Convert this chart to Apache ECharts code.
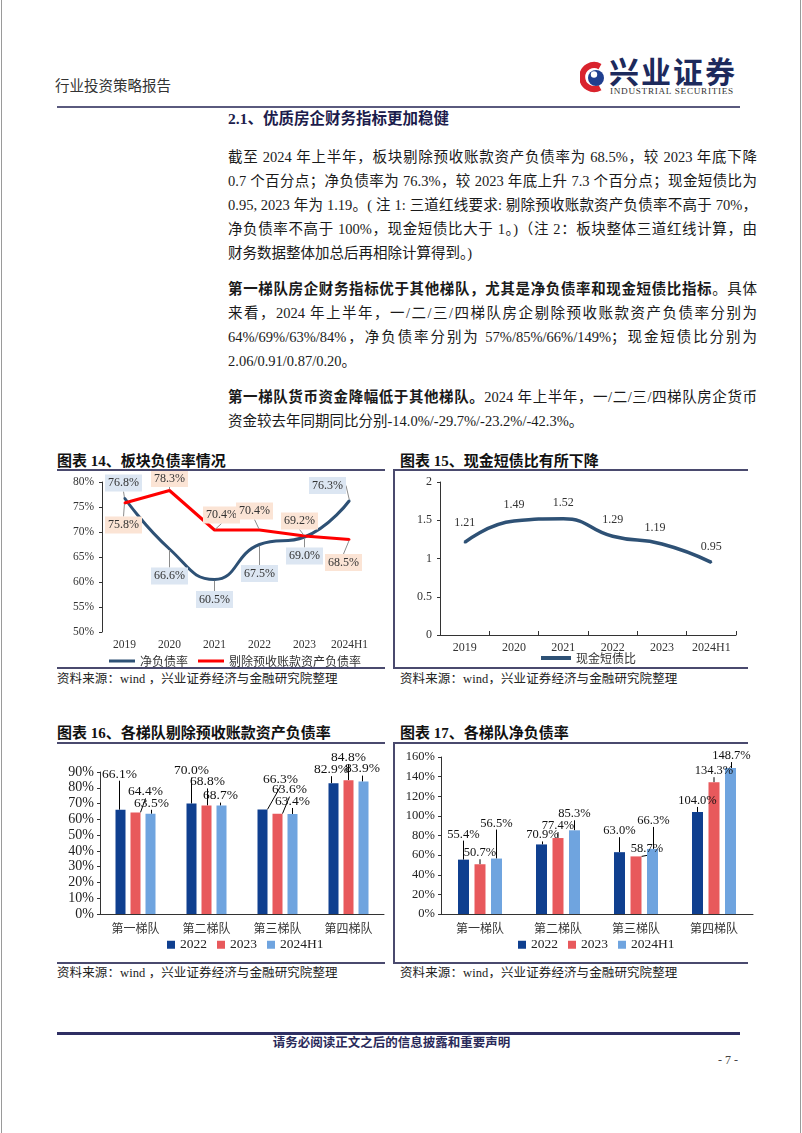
<!DOCTYPE html>
<html>
<head>
<meta charset="utf-8">
<script src="https://cdn.jsdelivr.net/npm/echarts@6/dist/echarts.min.js"></script>
<style>
html,body{margin:0;padding:0;background:#fff;}
body{width:802px;height:1133px;position:relative;overflow:hidden;font-family:"Liberation Serif","Noto Sans CJK SC",serif;color:#1a1a1a;}
.a{position:absolute;white-space:nowrap;}
.line{position:absolute;left:228px;width:529px;height:24px;line-height:24px;font-size:14.5px;white-space:nowrap;}
.j{text-align:justify;text-align-last:justify;}
.hr{position:absolute;background:#4a4a6e;}
.ttl{position:absolute;font-size:15px;font-weight:bold;line-height:18px;color:#111;white-space:nowrap;}
.src{position:absolute;font-size:12.5px;line-height:16px;color:#222;white-space:nowrap;letter-spacing:0.1px;}
.chart{position:absolute;}
</style>
</head>
<body>
<!-- page border -->
<div class="hr" style="left:1px;top:0;width:1px;height:1133px;background:#9a9a9a"></div>
<div class="hr" style="left:800px;top:0;width:1px;height:1133px;background:#9a9a9a"></div>

<!-- header -->
<div class="a" style="left:55px;top:77px;font-size:14.5px;line-height:18px;color:#333;">行业投资策略报告</div>
<svg class="a" style="left:580px;top:61px" width="28" height="32" viewBox="0 0 28 32">
  <path d="M20 5.5 A12 12 0 1 0 20 26.5" fill="none" stroke="#d9232d" stroke-width="6"/>
  <circle cx="16" cy="17" r="8" fill="#1f3f8f"/>
  <circle cx="14" cy="13.5" r="3.2" fill="#fff"/>
</svg>
<div class="a" style="left:609px;top:54px;font-size:30px;line-height:33px;font-weight:bold;color:#1d2a5c;letter-spacing:2px;font-family:'Noto Sans CJK SC',serif;">兴业证券</div>
<div class="a" style="left:610px;top:86px;font-size:9.2px;line-height:10px;color:#333;letter-spacing:0.7px;">INDUSTRIAL SECURITIES</div>
<div class="hr" style="left:57px;top:106px;width:683px;height:2px;background:#5a5a7e"></div>

<div class="a" style="left:228px;top:110px;font-size:15.5px;line-height:18px;font-weight:bold;color:#1c1c4c;">2.1、优质房企财务指标更加稳健</div>

<!-- paragraph 1 -->
<div class="line j" style="top:145px">截至 2024 年上半年，板块剔除预收账款资产负债率为 68.5%，较 2023 年底下降</div>
<div class="line j" style="top:169px">0.7 个百分点；净负债率为 76.3%，较 2023 年底上升 7.3 个百分点；现金短债比为</div>
<div class="line j" style="top:193px">0.95, 2023 年为 1.19。( 注 1: 三道红线要求: 剔除预收账款资产负债率不高于 70%，</div>
<div class="line j" style="top:217px">净负债率不高于 100%，现金短债比大于 1。)（注 2：板块整体三道红线计算，由</div>
<div class="line" style="top:241px">财务数据整体加总后再相除计算得到。)</div>

<!-- paragraph 2 -->
<div class="line j" style="top:277px"><b>第一梯队房企财务指标优于其他梯队，尤其是净负债率和现金短债比指标</b>。具体</div>
<div class="line j" style="top:301px">来看，2024 年上半年，一/二/三/四梯队房企剔除预收账款资产负债率分别为</div>
<div class="line j" style="top:325px">64%/69%/63%/84%，净负债率分别为 57%/85%/66%/149%；现金短债比分别为</div>
<div class="line" style="top:349px">2.06/0.91/0.87/0.20。</div>

<!-- paragraph 3 -->
<div class="line j" style="top:385px"><b>第一梯队货币资金降幅低于其他梯队。</b>2024 年上半年，一/二/三/四梯队房企货币</div>
<div class="line" style="top:409px">资金较去年同期同比分别-14.0%/-29.7%/-23.2%/-42.3%。</div>

<!-- chart frames row 1 -->
<div class="ttl" style="left:57px;top:452px">图表 14、板块负债率情况</div>
<div class="ttl" style="left:400px;top:452px">图表 15、现金短债比有所下降</div>
<div class="hr" style="left:57px;top:469px;width:328px;height:2px"></div>
<div class="hr" style="left:393px;top:469px;width:355px;height:2px"></div>
<div class="hr" style="left:393px;top:469px;width:1.5px;height:199px"></div>
<div class="hr" style="left:57px;top:667px;width:328px;height:1.5px"></div>
<div class="hr" style="left:393px;top:667px;width:355px;height:1.5px"></div>
<div class="src" style="left:57px;top:671px">资料来源：wind ，兴业证券经济与金融研究院整理</div>
<div class="src" style="left:400px;top:671px">资料来源：wind，兴业证券经济与金融研究院整理</div>

<!-- chart frames row 2 -->
<div class="ttl" style="left:57px;top:724px">图表 16、各梯队剔除预收账款资产负债率</div>
<div class="ttl" style="left:400px;top:724px">图表 17、各梯队净负债率</div>
<div class="hr" style="left:57px;top:742px;width:328px;height:2px"></div>
<div class="hr" style="left:393px;top:742px;width:355px;height:2px"></div>
<div class="hr" style="left:393px;top:742px;width:1.5px;height:222px"></div>
<div class="hr" style="left:57px;top:962px;width:328px;height:1.5px"></div>
<div class="hr" style="left:393px;top:962px;width:355px;height:1.5px"></div>
<div class="src" style="left:57px;top:965px">资料来源：wind ，兴业证券经济与金融研究院整理</div>
<div class="src" style="left:400px;top:965px">资料来源：wind，兴业证券经济与金融研究院整理</div>

<!-- footer -->
<div class="hr" style="left:57px;top:1032px;width:683px;height:2.5px;background:#2f2f63"></div>
<div class="a" style="left:50px;top:1036px;width:683px;text-align:center;font-size:12.5px;line-height:15px;color:#2a2a5a;font-weight:bold;">请务必阅读正文之后的信息披露和重要声明</div>
<div class="a" style="left:718px;top:1053px;font-size:12px;line-height:14px;color:#444;">- 7 -</div>

<div id="c14" class="chart" style="left:57px;top:471px;width:330px;height:196px"></div>
<div id="c15" class="chart" style="left:395px;top:471px;width:353px;height:196px"></div>
<div id="c16" class="chart" style="left:57px;top:745px;width:330px;height:217px"></div>
<div id="c17" class="chart" style="left:395px;top:745px;width:360px;height:217px"></div>

<script>
// ---------------- data ----------------
const years = ['2019', '2020', '2021', '2022', '2023', '2024H1'];
const netDebtRatio = [76.8, 66.6, 60.5, 67.5, 69.0, 76.3];
const assetLiabRatio = [75.8, 78.3, 70.4, 70.4, 69.2, 68.5];
const cashShortDebt = [1.21, 1.49, 1.52, 1.29, 1.19, 0.95];

const tiers = ['第一梯队', '第二梯队', '第三梯队', '第四梯队'];
const periods = ['2022', '2023', '2024H1'];
const tierLiab2022 = [66.1, 70.0, 66.3, 82.9];
const tierLiab2023 = [64.4, 68.8, 63.6, 84.8];
const tierLiab2024H1 = [63.5, 68.7, 63.4, 83.9];
const tierNet2022 = [55.4, 70.9, 63.0, 104.0];
const tierNet2023 = [50.7, 77.4, 58.7, 134.3];
const tierNet2024H1 = [56.5, 85.3, 66.3, 148.7];

// ---------------- label layout (pixel shifts, style only) ----------------
const shiftNet14 = [[-1,-15],[0,27],[0,20],[0,29],[0,19],[-22,-15]];
const shiftAsset14 = [[-1,22],[0,-12],[7,-15],[-5,-19],[-5,-15],[-6,23]];
const shiftCash15 = [[0,-20],[0,-16],[0,-16],[0,-16],[-7,-16],[0,-15]];
const shiftLiab = [
  [[-1,-25],[0,-22],[18,-19],[-2,-3]],
  [[10,-10],[1,-13],[12,-13],[0,-12]],
  [[1,0],[-1,1],[0,-2],[-1,-2]]
];
const shiftNet = [
  [[0,-15],[1,1],[0,-11],[0,-1]],
  [[0,-1],[0,-2],[11,3],[0,-1]],
  [[0,-25],[0,-6],[1,-18],[1,-2]]
];

const SERIF = '"Liberation Serif", "Noto Sans CJK SC", serif';
const CJK = '"Noto Sans CJK SC", sans-serif';
const BLUE_LINE = '#2e5175';
const RED_LINE = '#ff0000';
const BAR_COLORS = ['#0f3f8f', '#e8595c', '#6fa4df'];

function pct1(p) { return Number(p.value).toFixed(1) + '%'; }

// ---------------- chart 14 ----------------
const c14 = echarts.init(document.getElementById('c14'), null, {renderer: 'canvas'});
function lineLabel(bg) {
  return {show: true, position: 'inside', formatter: pct1, backgroundColor: bg,
    padding: [3, 3, 2, 3], color: '#333', fontSize: 12, fontFamily: SERIF};
}
c14.setOption({
  animation: false,
  textStyle: {fontFamily: SERIF},
  grid: {left: 45, top: 11, width: 270, height: 150, containLabel: false, outerBoundsMode: 'none'},
  legend: {left: 47, top: 179, itemWidth: 26, itemHeight: 3, itemGap: 10,
    textStyle: {fontFamily: CJK, fontSize: 12, color: '#333'},
    data: [{name: '净负债率', icon: 'rect'}, {name: '剔除预收账款资产负债率', icon: 'rect'}]},
  xAxis: {type: 'category', data: years, boundaryGap: true,
    axisLine: {show: false}, axisTick: {show: false},
    axisLabel: {interval: 0, fontFamily: SERIF, fontSize: 11.5, color: '#333', margin: 7}},
  yAxis: {type: 'value', min: 50, max: 80, interval: 5,
    axisLine: {show: true, lineStyle: {color: '#333', width: 1}},
    axisTick: {show: true, length: 3, lineStyle: {color: '#333'}},
    splitLine: {show: false},
    axisLabel: {formatter: '{value}%', fontFamily: SERIF, fontSize: 11.5, color: '#333', margin: 8}},
  series: [
    {name: '净负债率', type: 'line', data: netDebtRatio, smooth: 0.5,
      symbol: 'circle', symbolSize: 2, showSymbol: true,
      itemStyle: {color: BLUE_LINE}, lineStyle: {color: BLUE_LINE, width: 3},
      label: lineLabel('#dce6f2'),
      labelLine: {show: true, lineStyle: {color: '#8c8c8c', width: 1}},
      labelLayout: p => ({dx: shiftNet14[p.dataIndex][0], dy: shiftNet14[p.dataIndex][1]})},
    {name: '剔除预收账款资产负债率', type: 'line', data: assetLiabRatio, smooth: false,
      symbol: 'circle', symbolSize: 2, showSymbol: true,
      itemStyle: {color: RED_LINE}, lineStyle: {color: RED_LINE, width: 3},
      label: lineLabel('#fbe4d5'),
      labelLine: {show: true, lineStyle: {color: '#8c8c8c', width: 1}},
      labelLayout: p => ({dx: shiftAsset14[p.dataIndex][0], dy: shiftAsset14[p.dataIndex][1]})}
  ]
});

// ---------------- chart 15 ----------------
const c15 = echarts.init(document.getElementById('c15'));
c15.setOption({
  animation: false,
  textStyle: {fontFamily: SERIF},
  grid: {left: 45, top: 11, width: 296, height: 153, containLabel: false, outerBoundsMode: 'none'},
  legend: {left: 141, top: 176, itemWidth: 30, itemHeight: 4, itemGap: 8,
    textStyle: {fontFamily: CJK, fontSize: 12, color: '#333'},
    data: [{name: '现金短债比', icon: 'rect'}]},
  xAxis: {type: 'category', data: years, boundaryGap: true,
    axisLine: {show: true, lineStyle: {color: '#333', width: 1}},
    axisTick: {show: true, inside: true, length: 4, lineStyle: {color: '#333'}},
    axisLabel: {interval: 0, fontFamily: SERIF, fontSize: 12, color: '#333', margin: 7}},
  yAxis: {type: 'value', min: 0, max: 2, interval: 0.5,
    axisLine: {show: true, lineStyle: {color: '#333', width: 1}},
    axisTick: {show: true, length: 3, lineStyle: {color: '#333'}},
    splitLine: {show: false},
    axisLabel: {fontFamily: SERIF, fontSize: 12, color: '#333', margin: 8}},
  series: [
    {name: '现金短债比', type: 'line', data: cashShortDebt, smooth: 0.5,
      symbol: 'circle', symbolSize: 2, showSymbol: true,
      itemStyle: {color: BLUE_LINE}, lineStyle: {color: BLUE_LINE, width: 3.5},
      label: {show: true, position: 'inside', formatter: p => Number(p.value).toFixed(2),
        color: '#333', fontSize: 12, fontFamily: SERIF},
      labelLayout: p => ({dx: shiftCash15[p.dataIndex][0], dy: shiftCash15[p.dataIndex][1]})}
  ]
});

// ---------------- bar charts ----------------
function barOption(seriesData, shifts, yMax, yInterval, gridCfg, legendLeft, axisFont, labelFont, barW) {
  return {
    animation: false,
    textStyle: {fontFamily: SERIF},
    grid: Object.assign({containLabel: false, outerBoundsMode: 'none'}, gridCfg),
    legend: {left: legendLeft, top: 188, itemWidth: 8, itemHeight: 8, itemGap: 10,
      textStyle: {fontFamily: SERIF, fontSize: 13.5, color: '#222'},
      data: periods.map(n => ({name: n, icon: 'rect'}))},
    xAxis: {type: 'category', data: tiers,
      axisLine: {show: true, lineStyle: {color: '#333', width: 1}},
      axisTick: {show: false},
      axisLabel: {interval: 0, fontFamily: CJK, fontSize: 12, color: '#333', margin: 8}},
    yAxis: {type: 'value', min: 0, max: yMax, interval: yInterval,
      axisLine: {show: true, lineStyle: {color: '#333', width: 1}},
      axisTick: {show: true, length: 3, lineStyle: {color: '#333'}},
      splitLine: {show: false},
      axisLabel: {formatter: '{value}%', fontFamily: SERIF, fontSize: axisFont, color: '#222', margin: 6}},
    series: seriesData.map((d, si) => ({
      name: periods[si], type: 'bar', data: d, barWidth: barW, barGap: '50%',
      itemStyle: {color: BAR_COLORS[si]},
      label: {show: true, position: 'top', distance: 4, formatter: pct1,
        fontFamily: SERIF, fontSize: labelFont, color: '#111'},
      labelLine: {show: true, lineStyle: {color: '#000', width: 1}},
      labelLayout: p => ({dx: shifts[si][p.dataIndex][0], dy: shifts[si][p.dataIndex][1]})
    }))
  };
}

const c16 = echarts.init(document.getElementById('c16'));
c16.setOption(barOption([tierLiab2022, tierLiab2023, tierLiab2024H1], shiftLiab, 90, 10,
  {left: 43, top: 27, width: 284, height: 142}, 105, 14, 13.5, 10));

const c17 = echarts.init(document.getElementById('c17'));
c17.setOption(barOption([tierNet2022, tierNet2023, tierNet2024H1], shiftNet, 160, 20,
  {left: 46, top: 12, width: 312, height: 157}, 118, 12.5, 12.5, 11));
</script>
</body>
</html>
